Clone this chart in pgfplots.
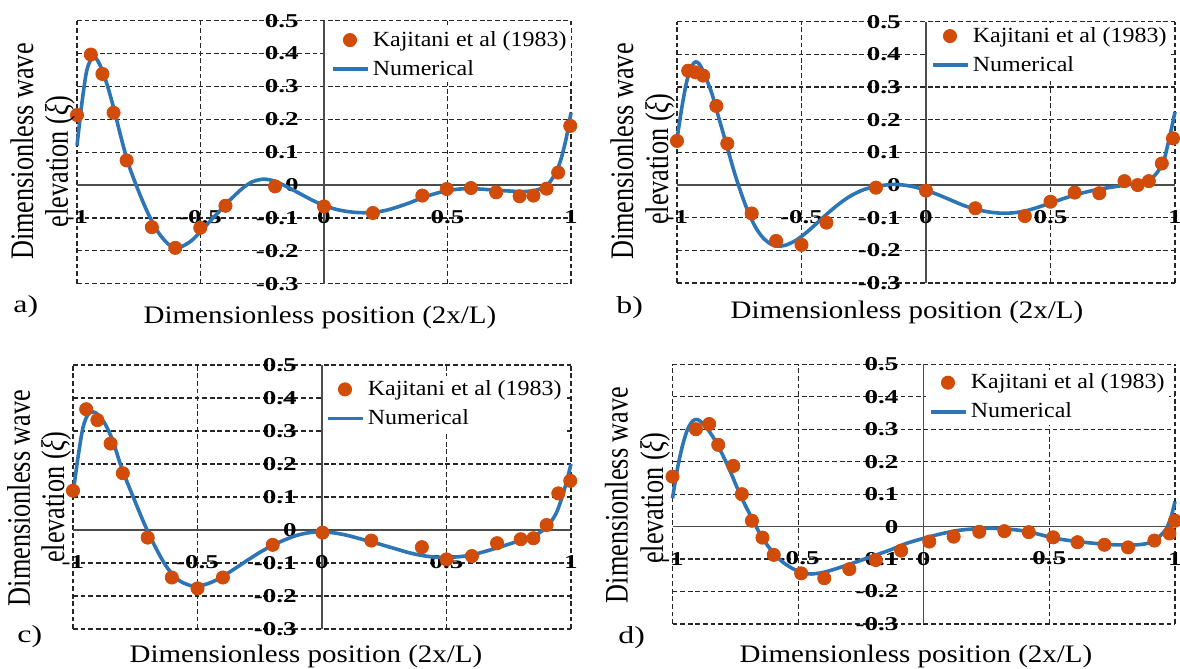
\documentclass[border=0pt]{standalone}
\usepackage{fontspec}
\setmainfont{Liberation Serif}
\newfontfamily\tickfont[FakeStretch=1.38]{Liberation Serif}
\newfontfamily\legfont[FakeStretch=1.11]{Liberation Serif}
\newfontfamily\xlabfont[FakeStretch=1.15]{Liberation Serif}
\newfontfamily\ylabfont[FakeStretch=0.8]{Liberation Serif}
\newfontfamily\letfont[FakeStretch=1.3]{Liberation Serif}
\usepackage{pgfplots}
\pgfplotsset{compat=1.18}

\definecolor{kajcol}{RGB}{208,76,8}
\definecolor{numcol}{RGB}{46,117,182}

\pgfplotsset{
  panel/.style={
    scale only axis,
    axis lines=middle,
    axis line style={-, draw=black!70, line width=0.6pt},
    xmin=-1, xmax=1, ymin=-0.3, ymax=0.5,
    enlargelimits=false,
    xtick={-1,-0.5,0,0.5,1},
    xticklabels={-1,-0.5,0,0.5,1},
    ytick={-0.3,-0.2,-0.1,0,0.1,0.2,0.3,0.4,0.5},
    yticklabels={-0.3,-0.2,-0.1,0,0.1,0.2,0.3,0.4,0.5},
    hide obscured x ticks=false,
    hide obscured y ticks=false,
    major tick length=0pt,
    grid=major,
    grid style={black!85, line width=0.6pt, dash pattern=on 2.4pt off 1.4pt},
    tick label style={font=\tickfont\bfseries\fontsize{9.8}{10}\selectfont, inner sep=0pt},
    xticklabel style={anchor=center, yshift=-16pt},
    yticklabel style={anchor=east, xshift=-12.5pt},
    legend style={draw=none, fill=white, at={(1,1)}, anchor=north east,
      font=\legfont\fontsize{10.8}{12}\selectfont,
      inner xsep=1.5pt, inner ysep=1.5pt, row sep=4.6pt, column sep=1.5pt,
      nodes={inner sep=0.5pt}},
    legend cell align=left,
    clip=false,
  },
  expstyle/.style={only marks, mark=*, mark size=3.3pt, color=kajcol,
    mark options={fill=kajcol}},
  numstyle/.style={no marks, smooth, line width=1.8pt, color=numcol},
}

\begin{document}
\begin{tikzpicture}
\useasboundingbox (0,0) rectangle (590pt,-334.5pt);

% a)
\begin{axis}[panel, name=a, at={(38.5pt,-10.35pt)}, anchor=north west,
  width=247pt, height=131.5pt, legend style={yshift=-3pt}]
\addplot[expstyle] coordinates {(-1.0,0.213) (-0.944,0.397) (-0.897,0.338) (-0.852,0.22) (-0.799,0.075) (-0.697,-0.128) (-0.602,-0.191) (-0.501,-0.13) (-0.399,-0.063) (-0.198,-0.004) (0.0,-0.065) (0.198,-0.085) (0.398,-0.032) (0.497,-0.012) (0.595,-0.009) (0.697,-0.022) (0.792,-0.034) (0.848,-0.032) (0.901,-0.011) (0.948,0.038) (0.997,0.18)};
\addlegendentry{Kajitani et al (1983)}
\addplot[numstyle] coordinates {(-1.0,0.12) (-0.98,0.25) (-0.96,0.35) (-0.935,0.39) (-0.91,0.37) (-0.88,0.31) (-0.85,0.23) (-0.82,0.14) (-0.79,0.06) (-0.75,-0.02) (-0.71,-0.09) (-0.67,-0.145) (-0.63,-0.18) (-0.6,-0.19) (-0.57,-0.185) (-0.53,-0.165) (-0.48,-0.125) (-0.43,-0.085) (-0.38,-0.045) (-0.33,-0.01) (-0.29,0.01) (-0.245,0.018) (-0.2,0.012) (-0.15,-0.005) (-0.1,-0.025) (-0.05,-0.045) (0,-0.062) (0.05,-0.074) (0.1,-0.081) (0.15,-0.084) (0.2,-0.083) (0.25,-0.077) (0.3,-0.066) (0.35,-0.053) (0.4,-0.038) (0.45,-0.026) (0.5,-0.017) (0.55,-0.012) (0.6,-0.011) (0.65,-0.013) (0.7,-0.016) (0.75,-0.018) (0.8,-0.02) (0.85,-0.017) (0.88,-0.01) (0.91,0.005) (0.94,0.04) (0.96,0.08) (0.98,0.14) (0.99,0.18) (1.0,0.22)};
\addlegendentry{Numerical}
\end{axis}

% b)
\begin{axis}[panel, name=b, at={(338.5pt,-10.85pt)}, anchor=north west,
  width=249pt, height=130.7pt, legend style={xshift=-2pt, yshift=-0.5pt}]
\addplot[expstyle] coordinates {(-1.0,0.135) (-0.955,0.35) (-0.925,0.345) (-0.895,0.335) (-0.842,0.242) (-0.798,0.127) (-0.7,-0.087) (-0.602,-0.171) (-0.5,-0.183) (-0.4,-0.115) (-0.201,-0.008) (0.0,-0.017) (0.198,-0.071) (0.397,-0.095) (0.5,-0.051) (0.597,-0.023) (0.696,-0.025) (0.797,0.012) (0.85,0.0) (0.895,0.012) (0.947,0.066) (0.992,0.143)};
\addlegendentry{Kajitani et al (1983)}
\addplot[numstyle] coordinates {(-1,0.14) (-0.98,0.24) (-0.96,0.32) (-0.94,0.365) (-0.925,0.377) (-0.91,0.37) (-0.89,0.34) (-0.86,0.28) (-0.83,0.2) (-0.8,0.12) (-0.77,0.04) (-0.74,-0.03) (-0.71,-0.09) (-0.68,-0.135) (-0.65,-0.165) (-0.62,-0.182) (-0.59,-0.187) (-0.56,-0.183) (-0.52,-0.168) (-0.48,-0.145) (-0.44,-0.118) (-0.4,-0.09) (-0.35,-0.058) (-0.3,-0.032) (-0.25,-0.014) (-0.2,-0.004) (-0.15,0.001) (-0.12,0.002) (-0.08,-0.001) (-0.04,-0.007) (0,-0.016) (0.05,-0.03) (0.1,-0.046) (0.15,-0.062) (0.2,-0.074) (0.25,-0.082) (0.3,-0.086) (0.35,-0.085) (0.4,-0.079) (0.45,-0.068) (0.5,-0.055) (0.55,-0.042) (0.6,-0.03) (0.65,-0.02) (0.7,-0.012) (0.75,-0.006) (0.8,0.0) (0.85,0.006) (0.9,0.018) (0.93,0.04) (0.955,0.075) (0.97,0.12) (0.985,0.17) (1.0,0.224)};
\addlegendentry{Numerical}
\end{axis}

% c)
\begin{axis}[panel, name=c, at={(36.5pt,-182.5pt)}, anchor=north west,
  width=249pt, height=132pt, legend style={xshift=-2.5pt, yshift=-5.5pt}]
\addplot[expstyle] coordinates {(-1.0,0.119) (-0.947,0.366) (-0.902,0.333) (-0.849,0.262) (-0.8,0.172) (-0.7,-0.023) (-0.603,-0.144) (-0.5,-0.177) (-0.398,-0.144) (-0.198,-0.045) (0.002,-0.008) (0.198,-0.032) (0.401,-0.052) (0.5,-0.089) (0.602,-0.079) (0.703,-0.04) (0.798,-0.028) (0.849,-0.025) (0.902,0.015) (0.949,0.111) (0.997,0.149)};
\addlegendentry{Kajitani et al (1983)}
\addplot[numstyle] coordinates {(-1,0.11) (-0.98,0.22) (-0.96,0.31) (-0.94,0.35) (-0.92,0.358) (-0.9,0.35) (-0.87,0.32) (-0.84,0.27) (-0.81,0.2) (-0.78,0.14) (-0.75,0.085) (-0.72,0.03) (-0.69,-0.02) (-0.66,-0.065) (-0.63,-0.105) (-0.6,-0.135) (-0.57,-0.155) (-0.53,-0.168) (-0.5,-0.17) (-0.46,-0.163) (-0.42,-0.15) (-0.38,-0.132) (-0.34,-0.112) (-0.3,-0.092) (-0.25,-0.068) (-0.2,-0.047) (-0.15,-0.03) (-0.1,-0.016) (-0.05,-0.008) (0,-0.006) (0.05,-0.009) (0.1,-0.016) (0.15,-0.026) (0.2,-0.036) (0.25,-0.047) (0.3,-0.058) (0.35,-0.069) (0.4,-0.077) (0.45,-0.082) (0.5,-0.083) (0.55,-0.081) (0.6,-0.076) (0.65,-0.066) (0.7,-0.055) (0.75,-0.043) (0.8,-0.031) (0.85,-0.018) (0.88,-0.005) (0.91,0.015) (0.94,0.05) (0.96,0.09) (0.98,0.14) (1.0,0.2)};
\addlegendentry{Numerical}
\end{axis}

% d)
\begin{axis}[panel, name=d, at={(336.25pt,-182.15pt)}, anchor=north west,
  width=251.25pt, height=129.85pt, legend style={xshift=-3pt, yshift=-2.5pt}]
\addplot[expstyle] coordinates {(-1.0,0.154) (-0.907,0.30) (-0.854,0.316) (-0.818,0.252) (-0.758,0.187) (-0.724,0.10) (-0.684,0.018) (-0.642,-0.034) (-0.597,-0.087) (-0.488,-0.144) (-0.396,-0.159) (-0.296,-0.131) (-0.191,-0.103) (-0.09,-0.074) (0.022,-0.046) (0.119,-0.031) (0.221,-0.016) (0.321,-0.014) (0.418,-0.017) (0.515,-0.033) (0.612,-0.048) (0.719,-0.056) (0.813,-0.064) (0.918,-0.043) (0.978,-0.021) (1.0,0.018)};
\addlegendentry{Kajitani et al (1983)}
\addplot[numstyle] coordinates {(-1,0.087) (-0.98,0.18) (-0.96,0.25) (-0.94,0.3) (-0.92,0.325) (-0.905,0.33) (-0.89,0.325) (-0.86,0.3) (-0.83,0.265) (-0.8,0.22) (-0.77,0.17) (-0.74,0.115) (-0.71,0.065) (-0.68,0.02) (-0.65,-0.025) (-0.62,-0.06) (-0.59,-0.088) (-0.56,-0.11) (-0.52,-0.13) (-0.48,-0.142) (-0.448,-0.146) (-0.4,-0.141) (-0.35,-0.13) (-0.284,-0.113) (-0.2,-0.09) (-0.134,-0.072) (-0.07,-0.052) (0,-0.036) (0.07,-0.022) (0.134,-0.012) (0.2,-0.007) (0.254,-0.005) (0.32,-0.007) (0.388,-0.012) (0.45,-0.022) (0.522,-0.036) (0.612,-0.046) (0.7,-0.053) (0.761,-0.056) (0.851,-0.056) (0.9,-0.05) (0.925,-0.041) (0.945,-0.025) (0.963,-0.01) (0.975,0.01) (0.985,0.031) (1.0,0.077)};
\addlegendentry{Numerical}
\end{axis}

% axis titles and panel letters
\tikzset{xlab/.style={font=\xlabfont\fontsize{12.6}{14}\selectfont, anchor=base, inner sep=0pt},
  ylab/.style={font=\ylabfont\fontsize{16.4}{18}\selectfont, rotate=90, anchor=base, inner sep=0pt},
  plet/.style={font=\letfont\fontsize{12.25}{14}\selectfont, anchor=base west, inner sep=0pt}}

\node[xlab] at (160pt,-161.5pt) {Dimensionless position (2x/L)};
\node[xlab] at (453.5pt,-159pt) {Dimensionless position (2x/L)};
\node[xlab] at (153pt,-331pt) {Dimensionless position (2x/L)};
\node[xlab] at (458pt,-331pt) {Dimensionless position (2x/L)};

\node[ylab] at (16.5pt,-75.75pt) {Dimensionless wave};
\node[ylab] at (34pt,-80.75pt) {elevation (\textit{ξ})};
\node[ylab] at (316.5pt,-75.75pt) {Dimensionless wave};
\node[ylab] at (334pt,-79.5pt) {elevation (\textit{ξ})};
\node[ylab] at (15pt,-249pt) {Dimensionless wave};
\node[ylab] at (32pt,-248.5pt) {elevation (\textit{ξ})};
\node[ylab] at (313.75pt,-247.5pt) {Dimensionless wave};
\node[ylab] at (331.5pt,-249pt) {elevation (\textit{ξ})};

\node[plet] at (6.5pt,-156pt) {a)};
\node[plet] at (308pt,-156.5pt) {b)};
\node[plet] at (8.5pt,-321pt) {c)};
\node[plet] at (309pt,-321.5pt) {d)};
\end{tikzpicture}
\end{document}
